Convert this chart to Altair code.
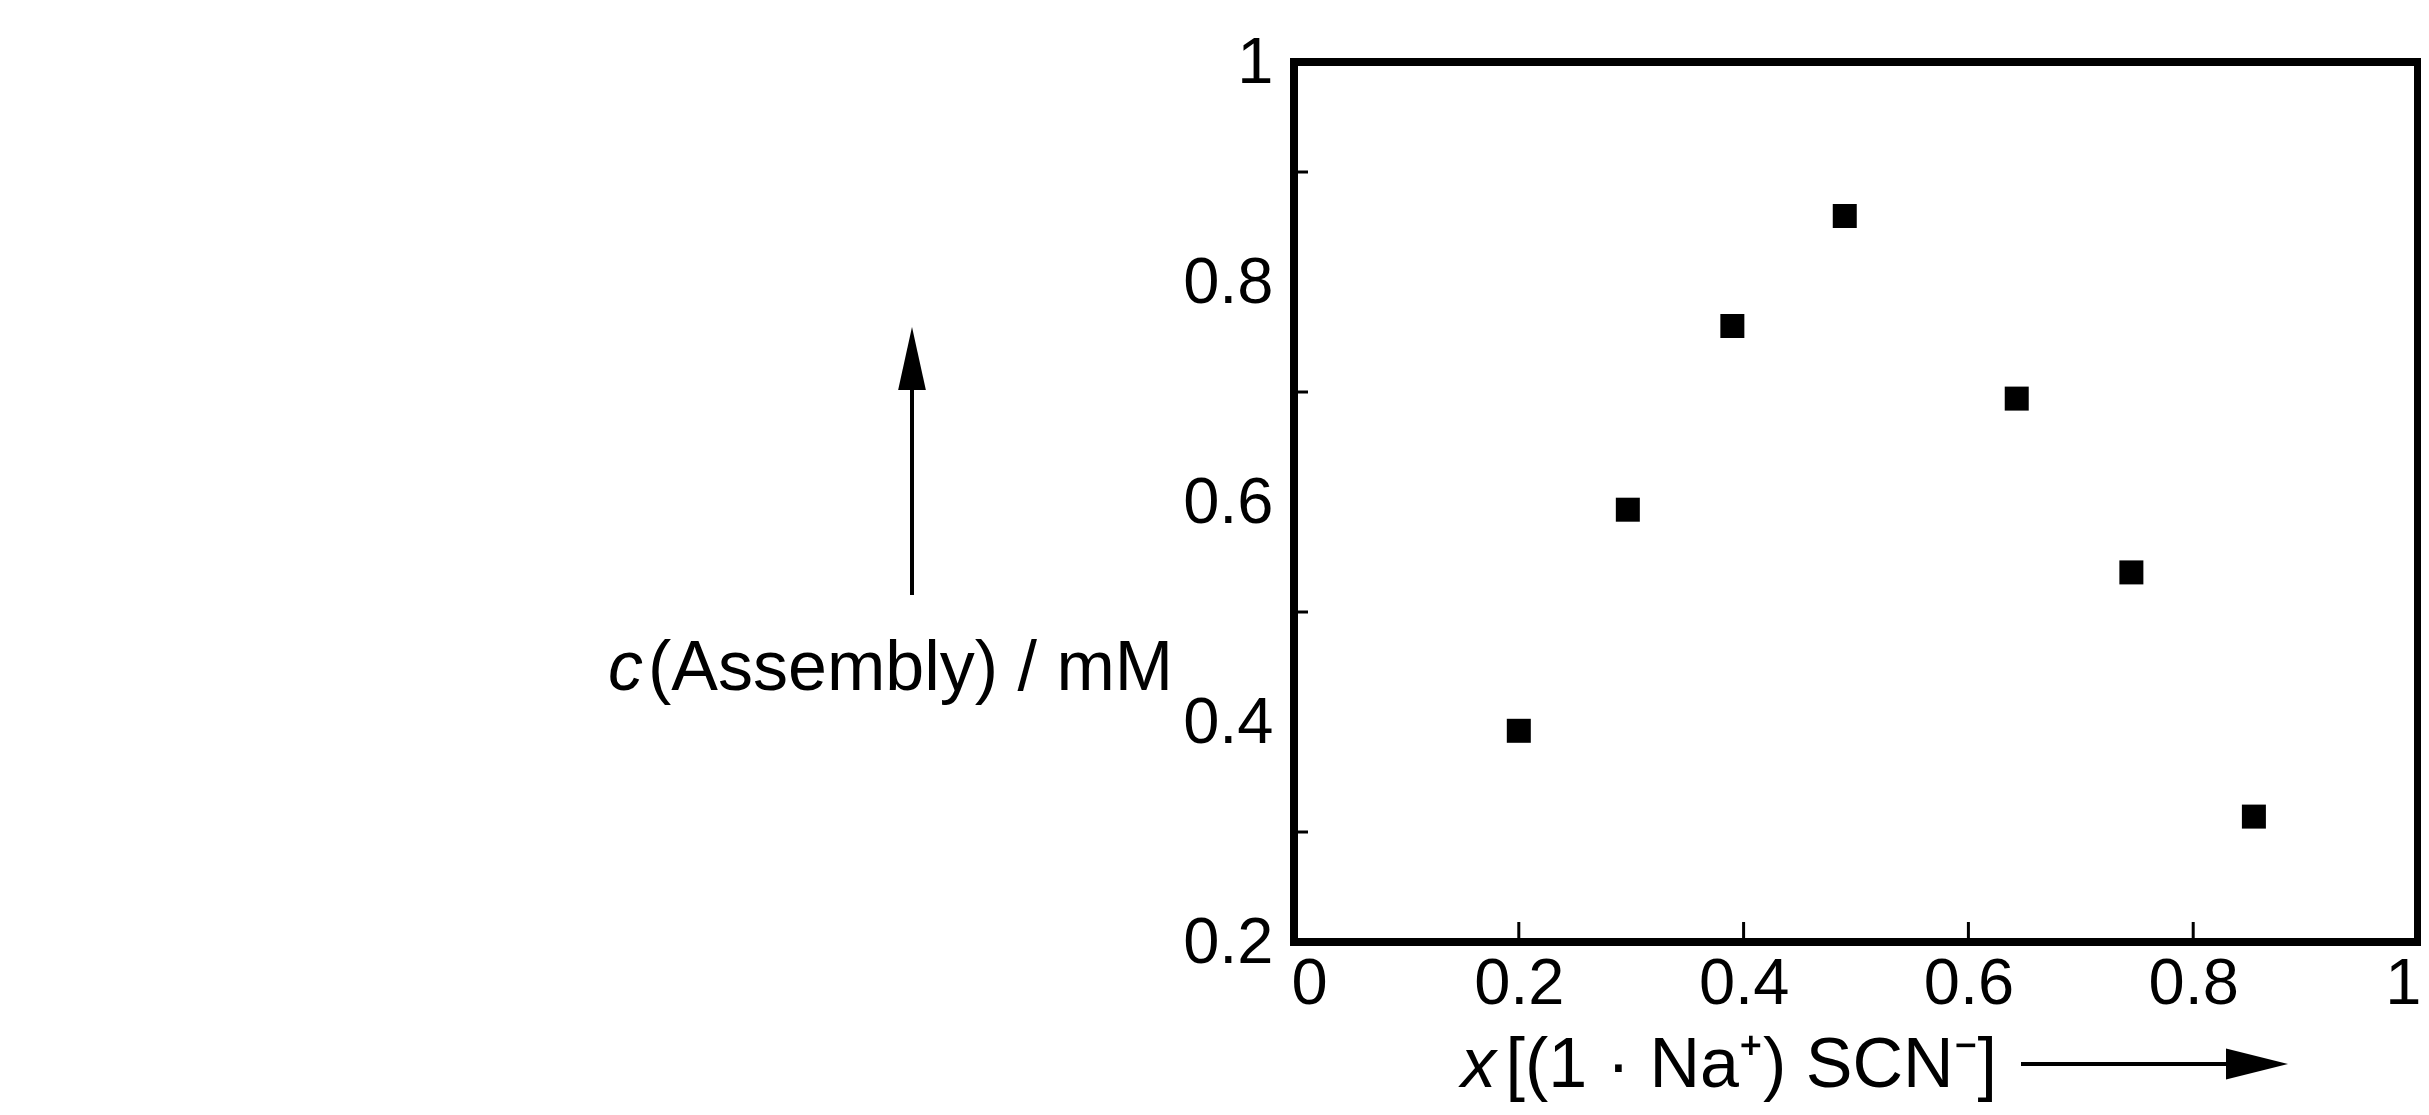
import altair as alt
import pandas as pd

# ---- data ----
x_frac = [0.200, 0.297, 0.390, 0.490, 0.643, 0.745, 0.854]
c_assembly = [0.392, 0.593, 0.760, 0.860, 0.694, 0.536, 0.314]

x_tick_values = [0, 0.2, 0.4, 0.6, 0.8, 1]
y_tick_values = [0.2, 0.4, 0.6, 0.8, 1]
x_inner_ticks = [0.2, 0.4, 0.6, 0.8]
y_inner_ticks = [0.3, 0.5, 0.7, 0.9]

y_title_var = "c"
y_title_rest = "(Assembly) / mM"
x_title_var = "x"
x_title_rest = "[(1 · Na⁺) SCN⁻]"

W, H = 1124, 880
FONT = "Liberation Sans"
FS = 65
TFS = 70

points = pd.DataFrame({"x": x_frac, "c": c_assembly})
one = pd.DataFrame({"k": [0]})

xscale = alt.Scale(domain=[0, 1], nice=False, zero=False)
yscale = alt.Scale(domain=[0.2, 1], nice=False, zero=False)
xaxis = alt.Axis(values=x_tick_values, format="~g", title=None, labelPadding=10,
                 labelFlush=True, labelFlushOffset=3, labelOverlap=False)
yaxis = alt.Axis(values=y_tick_values, format="~g", title=None, labelPadding=21,
                 labelOverlap=False)

scatter = alt.Chart(points).mark_square(size=576, color="black", opacity=1).encode(
    x=alt.X("x:Q", scale=xscale, axis=xaxis),
    y=alt.Y("c:Q", scale=yscale, axis=yaxis),
)

xticks = alt.Chart(pd.DataFrame({"x": x_inner_ticks})).mark_rule(color="black", strokeWidth=3).encode(
    x=alt.X("x:Q", scale=xscale, axis=xaxis),
    y=alt.value(H), y2=alt.value(H - 20),
)
yticks = alt.Chart(pd.DataFrame({"c": y_inner_ticks})).mark_rule(color="black", strokeWidth=3).encode(
    y=alt.Y("c:Q", scale=yscale, axis=yaxis),
    x=alt.value(0), x2=alt.value(14),
)

def txt(s, x, y, align, italic=False):
    kw = dict(text=s, font=FONT, fontSize=TFS, color="black", align=align, baseline="middle")
    if italic:
        kw["fontStyle"] = "italic"
    return alt.Chart(one).mark_text(**kw).encode(x=alt.value(x), y=alt.value(y))

ytitle_a = txt(y_title_var, -686, 607, "left", italic=True)
ytitle_b = txt(y_title_rest, -121, 607, "right")
xtitle_a = txt(x_title_var, 167, 1004, "left", italic=True)
xtitle_b = txt(x_title_rest, 703, 1004, "right")

up_shaft = alt.Chart(one).mark_rule(color="black", strokeWidth=4).encode(
    x=alt.value(-382), y=alt.value(300), y2=alt.value(533))
up_head = alt.Chart(one).mark_point(shape="M0,-1L0.44,1L-0.44,1Z", filled=True, size=3969,
                                    color="black", opacity=1, strokeWidth=0).encode(
    x=alt.value(-382), y=alt.value(296.5))

right_shaft = alt.Chart(one).mark_rule(color="black", strokeWidth=4).encode(
    x=alt.value(727), x2=alt.value(950), y=alt.value(1002))
right_head = alt.Chart(one).mark_point(shape="M1,0L-1,-0.5L-1,0.5Z", filled=True, size=3844,
                                       color="black", opacity=1, strokeWidth=0).encode(
    x=alt.value(963), y=alt.value(1002))

chart = alt.layer(
    xticks, yticks, scatter,
    ytitle_a, ytitle_b, xtitle_a, xtitle_b,
    up_shaft, up_head, right_shaft, right_head,
).properties(
    width=W, height=H,
    padding={"left": 1286, "top": 54, "right": 3, "bottom": 161},
    autosize=alt.AutoSizeParams(type="none"),
).configure_view(
    stroke="black", strokeWidth=8
).configure_axis(
    domain=False, grid=False, ticks=False, tickSize=0,
    labelFont=FONT, labelFontSize=FS, labelColor="black",
)

chart.save("out.html", embed_options={"renderer": "svg", "actions": False})
